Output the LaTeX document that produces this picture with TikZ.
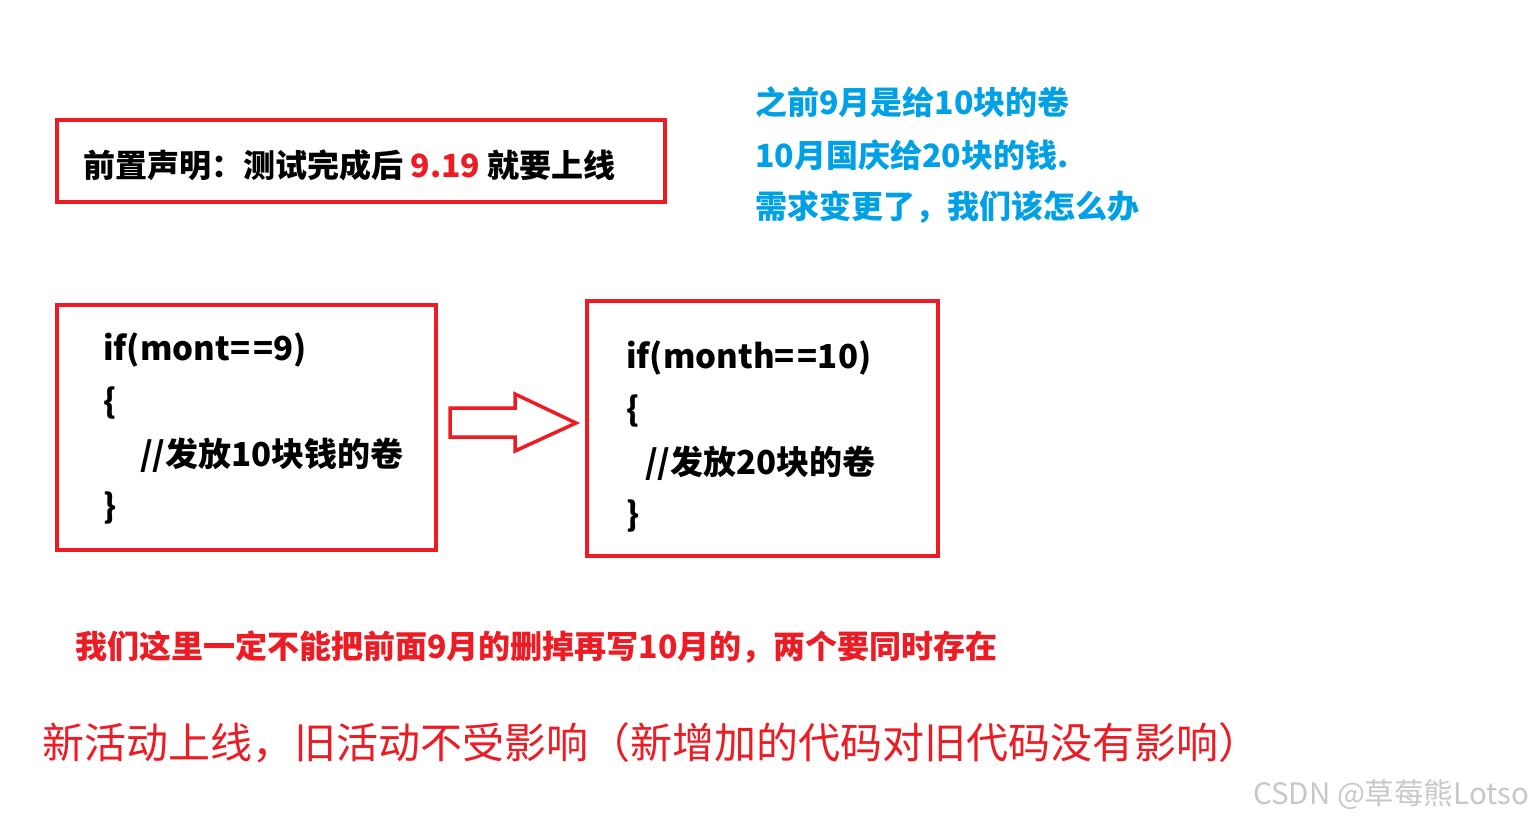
\documentclass[tikz,border=0pt]{standalone}
\usepackage{fontspec}
\setmainfont{Noto Sans CJK SC}
\definecolor{myred}{HTML}{ED1C24}
\definecolor{myblue}{HTML}{00A0E6}
\definecolor{wm}{HTML}{C8C8C8}
\newcommand{\eqeq}{=\kern3pt=}
\begin{document}
\begin{tikzpicture}[x=1pt,y=-1pt,
  redbox/.style={draw=myred,line width=4pt},
  txt/.style={anchor=west,inner sep=0pt,font=\bfseries\fontsize{32}{38}\selectfont},
  codetxt/.style={anchor=west,inner sep=0pt,font=\bfseries\fontsize{33}{40}\selectfont},
  bluetxt/.style={txt,text=myblue},
]
\useasboundingbox (0,0) rectangle (1530,821);
\fill[white] (0,0) rectangle (1530,821);
% boxes
\draw[redbox] (57,120) rectangle (665,202);
\draw[redbox] (57,305) rectangle (436,550);
\draw[redbox] (587,301) rectangle (938,556);
% header
\node[txt] (hdr) at (83,165) {前置声明：测试完成后 \textcolor{myred}{9.19} 就要上线};
% blue notes
\node[bluetxt] (b1) at (755,102) {之前9月是给10块的卷};
\node[bluetxt] (b2) at (755,155) {10月国庆给20块的钱.};
\node[bluetxt] (b3) at (755,207) {需求变更了，我们该怎么办};
% code left
\node[codetxt] (l1) at (103,350) {if(mont\eqeq 9)};
\node[codetxt] (l2) at (103,403) {\{};
\node[codetxt] (l3) at (140,455) {//发放10块钱的卷};
\node[codetxt] (l4) at (103,508) {\}};
% code right
\node[codetxt] (r1) at (626,358) {if(month\eqeq 10)};
\node[codetxt] (r2) at (626,411) {\{};
\node[codetxt] (r3) at (645,463) {//发放20块的卷};
\node[codetxt] (r4) at (626,516) {\}};
% block arrow
\draw[myred,line width=3.5pt,line join=miter]
  (450,408) -- (515,408) -- (515,394) -- (576,423) -- (515,451) -- (515,437) -- (450,437) -- cycle;
% bottom lines
\node[txt,text=myred] (n1) at (75,647) {我们这里一定不能把前面9月的删掉再写10月的，两个要同时存在};
\node[anchor=west,inner sep=0pt,text=myred,font=\fontsize{42}{50}\selectfont] (n2) at (42,743) {新活动上线，旧活动不受影响（新增加的代码对旧代码没有影响）};
\node[anchor=west,inner sep=0pt,text=wm,font=\fontsize{29.5}{35}\selectfont] (wmk) at (1253,795) {CSDN @草莓熊Lotso};
\end{tikzpicture}
\end{document}
